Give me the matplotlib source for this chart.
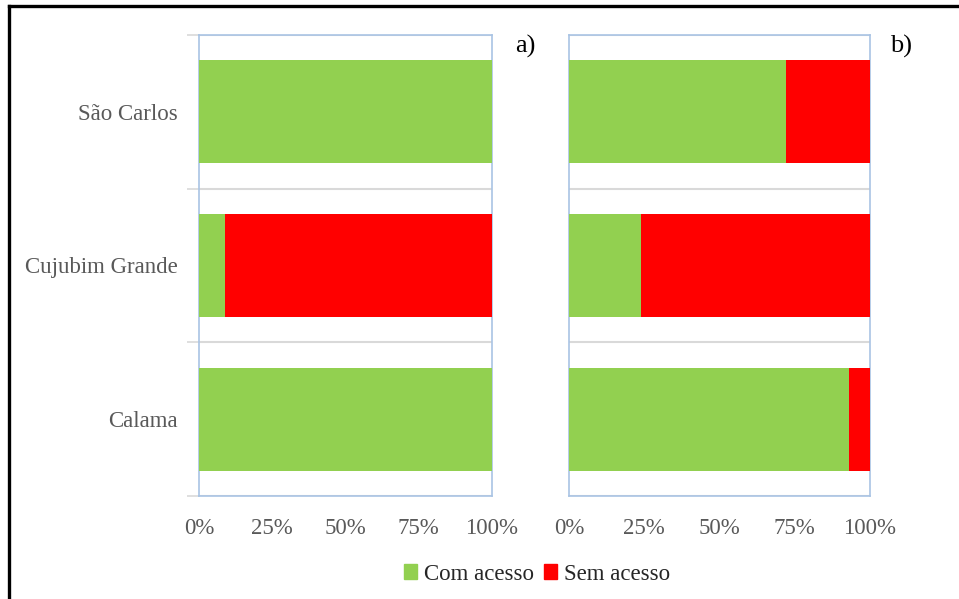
import matplotlib
matplotlib.use("Agg")
import matplotlib.pyplot as plt
from matplotlib.lines import Line2D
from matplotlib.patches import Patch

plt.rcParams['font.family'] = ['Liberation Serif', 'DejaVu Serif']

categories = ["São Carlos", "Cujubim Grande", "Calama"]
com_acesso_a = [100, 9, 100]
sem_acesso_a = [0, 91, 0]
com_acesso_b = [72, 24, 93]
sem_acesso_b = [28, 76, 7]
xtick_labels = ["0%", "25%", "50%", "75%", "100%"]
series_names = ["Com acesso", "Sem acesso"]

GREEN = "#92d050"
RED = "#ff0000"
SPINE = "#a9c4e4"
GRID = "#d9d9d9"
TXT = "#595959"

W, H = 959, 599
fig = plt.figure(figsize=(W / 100, H / 100), dpi=100)

def px_axes(x0, y0, x1, y1):
    return fig.add_axes([x0 / W, 1 - y1 / H, (x1 - x0) / W, (y1 - y0) / H])

ax_a = px_axes(199, 35, 492, 496)
ax_b = px_axes(569, 35, 870, 496)

ypos = list(range(len(categories)))

for ax, com, sem, show_y in [(ax_a, com_acesso_a, sem_acesso_a, True),
                             (ax_b, com_acesso_b, sem_acesso_b, False)]:
    ax.barh(ypos, com, height=0.67, color=GREEN, zorder=3)
    ax.barh(ypos, sem, left=com, height=0.67, color=RED, zorder=3)
    ax.set_xlim(0, 100)
    ax.set_ylim(len(categories) - 0.5, -0.5)
    ax.set_xticks([0, 25, 50, 75, 100])
    ax.set_xticklabels(xtick_labels)
    ax.tick_params(axis='x', length=0, pad=16, labelsize=16.5, labelcolor=TXT)
    ax.set_yticks([-0.5, 0.5, 1.5, 2.5], minor=True)
    ax.grid(which='minor', axis='y', color=GRID, linewidth=1.5, zorder=1)
    for s in ax.spines.values():
        s.set_color(SPINE)
        s.set_linewidth(1.2)
    if show_y:
        ax.set_yticks(ypos)
        ax.set_yticklabels(categories)
        ax.tick_params(axis='y', which='major', length=0, pad=15,
                       labelsize=16.5, labelcolor=TXT)
        ax.tick_params(axis='y', which='minor', length=9, width=1.2,
                       color=GRID)
    else:
        ax.set_yticks([])
        ax.tick_params(axis='y', which='minor', length=0)

fig.text(515 / W, 1 - 46 / H, "a)", fontsize=19, color="black",
         va="center", ha="left")
fig.text(890 / W, 1 - 46 / H, "b)", fontsize=19, color="black",
         va="center", ha="left")

handles = [Patch(color=GREEN), Patch(color=RED)]
fig.legend(handles, series_names, loc="center", bbox_to_anchor=(537 / W, 1 - 574 / H),
           ncol=2, frameon=False, fontsize=16.5, handlelength=0.6, handleheight=0.6,
           handletextpad=0.3, columnspacing=0.4, labelcolor="#262626")

# frame around the figure (left and top edges)
fig.add_artist(Line2D([8.5 / W, 8.5 / W], [0, 1 - 5.5 / H], transform=fig.transFigure,
                      color="black", linewidth=2.4, solid_capstyle="projecting"))
fig.add_artist(Line2D([8.5 / W, 1], [1 - 5.5 / H, 1 - 5.5 / H], transform=fig.transFigure,
                      color="black", linewidth=2.4, solid_capstyle="projecting"))

fig.savefig("out.png", dpi=100)
